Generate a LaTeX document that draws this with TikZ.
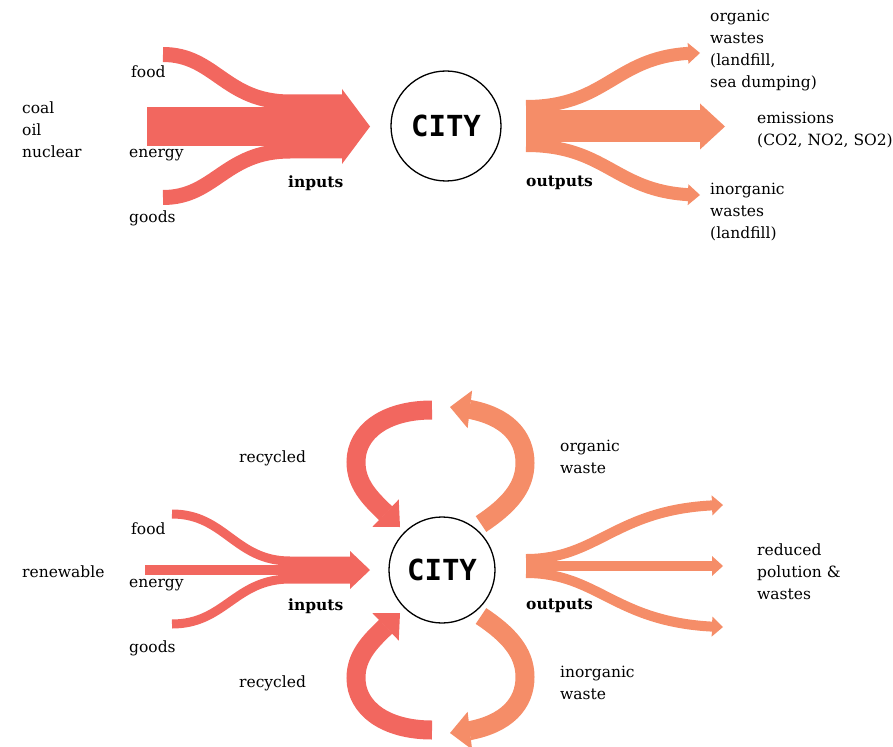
\documentclass[tikz,border=0pt]{standalone}
\usepackage{fontspec}
\setmainfont{DejaVu Serif}
\newfontfamily\citymono{DejaVu Sans Mono}
\usetikzlibrary{arrows.meta,bending}
\definecolor{inred}{RGB}{242,103,95}
\definecolor{outorange}{RGB}{245,141,104}

\begin{document}
\begin{tikzpicture}[
    x=1pt, y=-1pt,
    font=\fontsize{15.5}{22}\selectfont,
    city/.style={
        draw=black,
        circle,
        line width=1.3pt,
        minimum size=110pt,
        inner sep=0pt,
        font=\citymono\bfseries\fontsize{29}{29}\selectfont
    },
    lbl/.style={anchor=west, align=left, inner sep=0pt},
    flowin/.style={draw=inred, line cap=butt},
    flowout/.style={draw=outorange, line cap=butt},
    flowhead/.style args={#1/#2}{-{Triangle[length=#1pt,width=#2pt,line width=0pt]}}
]
\useasboundingbox (0,0) rectangle (893,746);

% top: linear city
\node[city] (city1) at (446,126) {CITY};

\coordinate (energy1) at (147,126.5);
\coordinate (food1) at (163,54.5);
\coordinate (goods1) at (163,197.5);
\coordinate (in1) at (370,126.5);

\draw[flowin, line width=15pt] (food1) .. controls (215,54.5) and (225,102) .. (290,102) -- (342,102);
\draw[flowin, line width=15pt] (goods1) .. controls (215,197.5) and (225,151) .. (290,151) -- (342,151);
\draw[flowin, line width=39pt, flowhead=28/75] (energy1) -- (in1);

\coordinate (out1) at (526,126.5);
\coordinate (out1a) at (526,106.5);
\coordinate (out1b) at (526,145.5);
\coordinate (org1) at (700,53);
\coordinate (emis1) at (725,126.5);
\coordinate (inorg1) at (700,195);

\draw[flowout, line width=13pt, flowhead=12/21] (out1a) .. controls (610,106.5) and (615,53) .. (org1);
\draw[flowout, line width=13pt, flowhead=12/21] (out1b) .. controls (610,145.5) and (615,195) .. (inorg1);
\draw[flowout, line width=32pt, flowhead=25/46] (out1) -- (emis1);

\node[lbl] (src1) at (22,130) {coal\\oil\\nuclear};
\node[lbl] (lfood1) at (131,72) {food};
\node[lbl] (lenergy1) at (129,155) {energy};
\node[lbl] (lgoods1) at (129,218) {goods};
\node[lbl, font=\fontsize{15.5}{22}\selectfont\bfseries] (lin1) at (288,183) {inputs};
\node[lbl, font=\fontsize{15.5}{22}\selectfont\bfseries] (lout1) at (526,183) {outputs};
\node[lbl] (lorg1) at (710,51) {organic\\wastes\\(landfill,\\sea dumping)};
\node[lbl] (lemis1) at (757,130) {emissions\\(CO2, NO2, SO2)};
\node[lbl] (linorg1) at (710,212) {inorganic\\wastes\\(landfill)};

% bottom: circular city
\node[city, minimum size=106pt] (city2) at (442,570) {CITY};

\coordinate (energy2) at (145,570);
\coordinate (food2) at (172,514);
\coordinate (goods2) at (172,624);
\coordinate (in2) at (370,570);

\draw[flowin, line width=9pt] (food2) .. controls (225,514) and (235,561) .. (290,561) -- (350,561);
\draw[flowin, line width=9pt] (goods2) .. controls (225,624) and (235,579) .. (290,579) -- (350,579);
\draw[flowin, line width=10pt, flowhead=20/38] (energy2) -- (in2);

\coordinate (out2) at (526,566);
\coordinate (out2a) at (526,559);
\coordinate (out2b) at (526,573);
\coordinate (red2a) at (723,505);
\coordinate (red2) at (723,566);
\coordinate (red2b) at (723,627);

\draw[flowout, line width=10pt, flowhead=11/20] (out2a) .. controls (600,559) and (615,507) .. (red2a);
\draw[flowout, line width=10pt, flowhead=11/20] (out2b) .. controls (600,573) and (615,625) .. (red2b);
\draw[flowout, line width=10pt, flowhead=11/20] (out2) -- (red2);

% recycling loops
\coordinate (rec1) at (432,410);
\coordinate (rec1end) at (400,527);
\coordinate (rec2) at (432,730);
\coordinate (rec2end) at (400,613);
\coordinate (orgw) at (481,524);
\coordinate (orgwend) at (450,407);
\coordinate (inorgw) at (481,616);
\coordinate (inorgwend) at (450,733);

\draw[flowin, line width=19pt, flowhead=20/38] (rec1) .. controls (385,410) and (356,432) .. (356,462) .. controls (356,490) and (378,505) .. (rec1end);
\draw[flowout, line width=19pt, flowhead=20/38] (orgw) .. controls (508,506) and (525,488) .. (525,463) .. controls (525,432) and (500,410) .. (orgwend);
\draw[flowin, line width=19pt, flowhead=20/38] (rec2) .. controls (385,730) and (356,708) .. (356,678) .. controls (356,650) and (378,635) .. (rec2end);
\draw[flowout, line width=19pt, flowhead=20/38] (inorgw) .. controls (508,634) and (525,652) .. (525,677) .. controls (525,708) and (500,730) .. (inorgwend);

\node[lbl] (lrec1) at (239,458) {recycled};
\node[lbl] (lrec2) at (239,683) {recycled};
\node[lbl] (lorgw) at (560,457) {organic\\waste};
\node[lbl] (linorgw) at (560,683) {inorganic\\waste};
\node[lbl] (src2) at (22,572) {renewable};
\node[lbl] (lfood2) at (131,529) {food};
\node[lbl] (lenergy2) at (129,585) {energy};
\node[lbl] (lgoods2) at (129,648) {goods};
\node[lbl, font=\fontsize{15.5}{22}\selectfont\bfseries] (lin2) at (288,606) {inputs};
\node[lbl, font=\fontsize{15.5}{22}\selectfont\bfseries] (lout2) at (526,606) {outputs};
\node[lbl] (lred2) at (757,572) {reduced\\polution \&\\wastes};

\end{tikzpicture}
\end{document}
